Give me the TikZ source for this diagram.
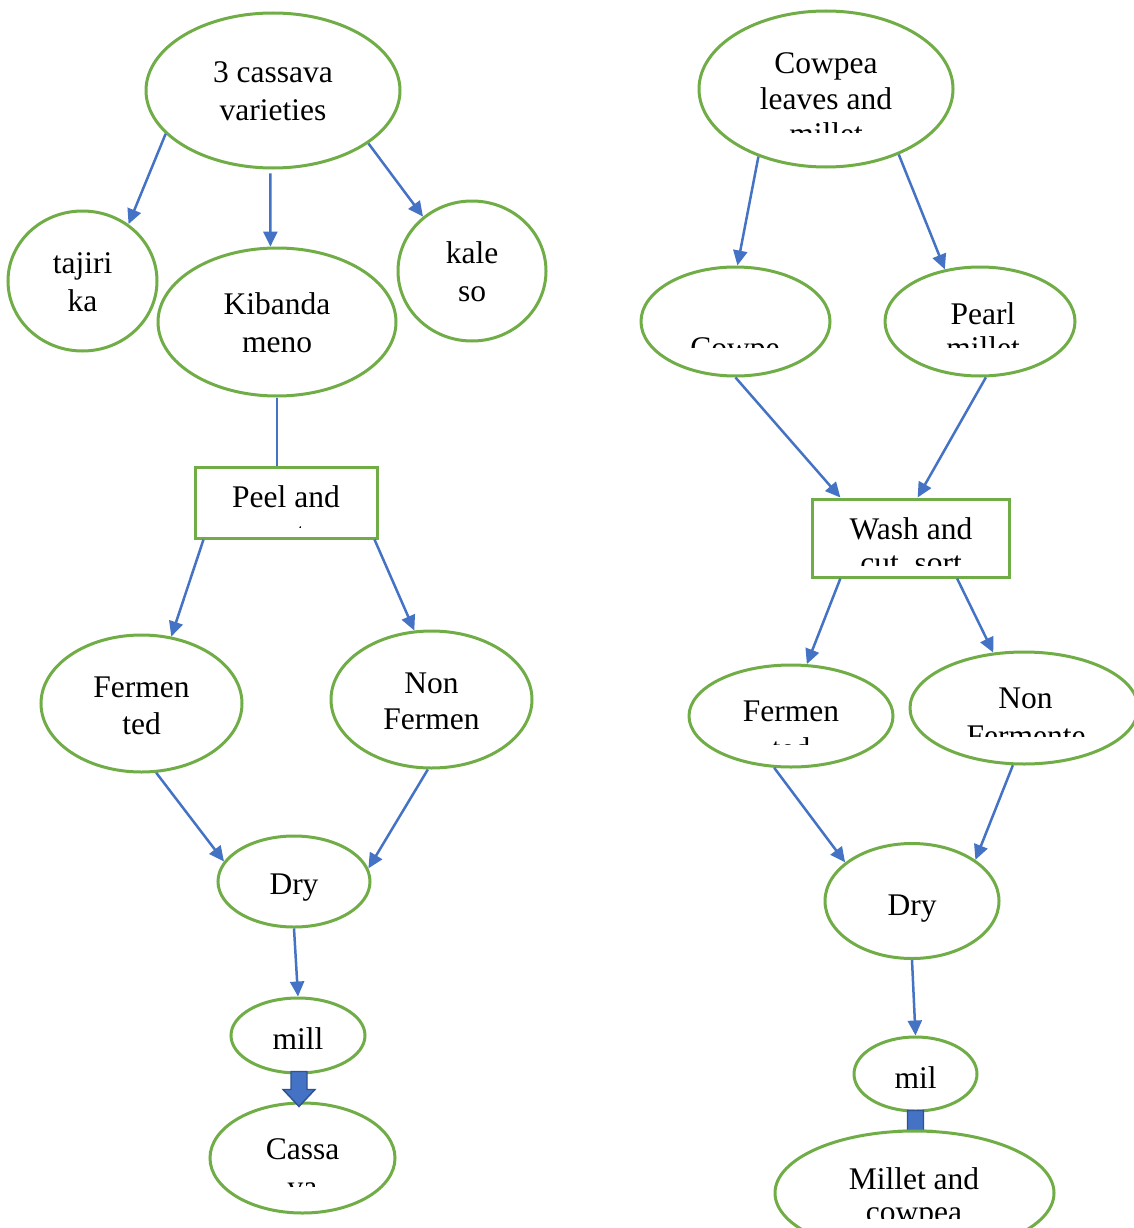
\documentclass[tikz,border=0pt]{standalone}
\usepackage{fontspec}
\setmainfont{Liberation Serif}
\usetikzlibrary{arrows.meta,shapes.geometric}
\definecolor{grn}{HTML}{70AD47}
\definecolor{blu}{HTML}{4472C4}
\definecolor{bludark}{HTML}{2F528F}
\begin{document}
\begin{tikzpicture}[x=1pt,y=-1pt,
  ell/.style={ellipse, draw=grn, line width=3pt, fill=white, inner sep=0pt},
  box/.style={rectangle, draw=grn, line width=3pt, fill=white, inner sep=0pt},
  txt/.style={anchor=base, inner sep=0pt, font=\fontsize{31.5}{37}\selectfont},
  arr/.style={draw=blu, line width=2.5pt, -{Triangle[length=15pt,width=14pt]}},
  thinline/.style={draw=blu, line width=1.4pt},
  blockarr/.style={fill=blu, draw=bludark, line width=1.4pt}]
\useasboundingbox[fill=white] (0,0) rectangle (1134,1228);

% ---------------- left column ----------------
\node[ell, minimum width=254pt, minimum height=155pt] (n1) at (273,90.5) {};
\node[ell, minimum width=149pt, minimum height=140pt] (taj) at (82.5,281) {};
\node[ell, minimum width=238pt, minimum height=148pt] (kib) at (277,322) {};
\node[ell, minimum width=148pt, minimum height=140pt] (kale) at (472,271) {};
\node[box, minimum width=182pt, minimum height=71pt] (peel) at (286,502.5) {};
\node[ell, minimum width=201pt, minimum height=137pt] (fer) at (141.5,703.5) {};
\node[ell, minimum width=201pt, minimum height=137pt] (non) at (431.5,699.5) {};
\node[ell, minimum width=152pt, minimum height=91pt] (dry) at (294,881.5) {};
\node[ell, minimum width=134pt, minimum height=75pt] (mill) at (298,1035.5) {};
\node[ell, minimum width=185pt, minimum height=110pt] (cas) at (302.5,1158) {};

\node[txt] (n1a) at (273,83) {3 cassava};
\node[txt] (n1b) at (273,121) {varieties};
\node[txt] (taja) at (82.5,273) {tajiri};
\node[txt] (tajb) at (82.5,311) {ka};
\node[txt] (kiba) at (277,314) {Kibanda};
\node[txt] (kibb) at (277,352) {meno};
\node[txt] (kalea) at (472,263) {kale};
\node[txt] (kaleb) at (472,301) {so};
\node[txt] (peela) at (286,507) {Peel and};
\begin{scope}
  \clip (200,505) rectangle (372,527);
  \node[txt] (peelb) at (286,544) {cut};
\end{scope}
\node[txt] (fera) at (141.5,697) {Fermen};
\node[txt] (ferb) at (141.5,734) {ted};
\node[txt] (nona) at (431.5,693) {Non};
\node[txt] (nonb) at (431.5,729) {Fermen};
\node[txt] (dryt) at (294,894) {Dry};
\node[txt] (millt) at (298,1049) {mill};
\node[txt] (casa) at (302.5,1159) {Cassa};
\begin{scope}
  \clip (220,1165) rectangle (385,1186);
  \node[txt] (casb) at (302.5,1197) {va};
\end{scope}

\draw[arr] (n1.202) -- (taj.51);
\draw[arr] ([yshift=-4pt]n1.268) -- (kib.95);
\draw[arr] (n1.331) -- (kale.132);
\draw[thinline] (kib.south) -- (kib.south |- peel.north);
\draw[arr] ([xshift=10pt]peel.south west) -- (fer.66);
\draw[arr] ([xshift=-4pt]peel.south east) -- (non.104);
\draw[arr] (fer.282) -- (dry.164);
\draw[arr] (non.267) -- (dry.10);
\draw[arr] (dry.south) -- (mill.north);
\begin{scope}[shift={(mill.south)}]
  \filldraw[blockarr] (-7,-3) -- (9,-3) -- (9,15) -- (17,15) -- (1,32) -- (-15,15) -- (-7,15) -- cycle;
\end{scope}

% ---------------- right column ----------------
\node[ell, minimum width=254pt, minimum height=156pt] (r1) at (826,89) {};
\node[ell, minimum width=189pt, minimum height=109pt] (cow) at (735.5,321.5) {};
\node[ell, minimum width=190pt, minimum height=109pt] (pearl) at (980,321.5) {};
\node[box, minimum width=197pt, minimum height=78pt] (wash) at (910.5,538) {};
\node[ell, minimum width=204pt, minimum height=102pt] (ferR) at (791,716) {};
\node[ell, minimum width=228pt, minimum height=112pt] (nonR) at (1024,708) {};
\node[ell, minimum width=174pt, minimum height=115pt] (dryR) at (912,901) {};
\node[ell, minimum width=123pt, minimum height=74pt] (mil) at (915.5,1074) {};

\node[txt] (r1a) at (826,74) {Cowpea};
\node[txt] (r1b) at (826,110) {leaves and};
\begin{scope}
  \clip (720,116) rectangle (930,133);
  \node[txt] (r1c) at (826,144) {millet};
\end{scope}
\begin{scope}
  \clip (650,320) rectangle (820,347);
  \node[txt] (cowt) at (735,358) {Cowpe};
\end{scope}
\node[txt] (pearla) at (983,324) {Pearl};
\begin{scope}
  \clip (900,328) rectangle (1065,347);
  \node[txt] (pearlb) at (983,358) {millet};
\end{scope}
\node[txt] (washa) at (911,539) {Wash and};
\begin{scope}
  \clip (820,544) rectangle (1000,565);
  \node[txt] (washb) at (911,573) {cut, sort};
\end{scope}
\node[txt] (fera2) at (791,721) {Fermen};
\begin{scope}
  \clip (700,726) rectangle (880,744);
  \node[txt] (ferb2) at (791,759) {ted};
\end{scope}
\node[txt] (nona2) at (1025.5,708) {Non};
\begin{scope}
  \clip (920,714) rectangle (1134,736);
  \node[txt] (nonb2) at (1026,746) {Fermente};
\end{scope}
\node[txt] (dryRt) at (912,915) {Dry};
\node[txt] (milt) at (915.5,1088) {mil};

\draw[arr] (r1.225) -- (cow.88);
\draw[arr] (r1.318) -- (pearl.124);
\draw[arr] (cow.south) -- (wash.150);
\draw[arr] (pearl.276) -- (wash.80);
\draw[arr] (wash.210) -- (ferR.73);
\draw[arr] (wash.319) -- (nonR.119);
\draw[arr] (ferR.252) -- (dryR.150);
\draw[arr] (nonR.259) -- (dryR.33);
\draw[arr] (dryR.south) -- (mil.north);
\begin{scope}[shift={(mil.south)}]
  \filldraw[blockarr] (-8,-2) -- (8,-2) -- (8,18) -- (16,18) -- (0,35) -- (-16,18) -- (-8,18) -- cycle;
\end{scope}

\node[ell, minimum width=279pt, minimum height=124pt] (fin) at (914.5,1193) {};
\node[txt] (fina) at (914,1189) {Millet and};
\begin{scope}
  \clip (790,1195) rectangle (1040,1218);
  \node[txt] (finb) at (914,1222) {cowpea};
\end{scope}
\end{tikzpicture}
\end{document}
